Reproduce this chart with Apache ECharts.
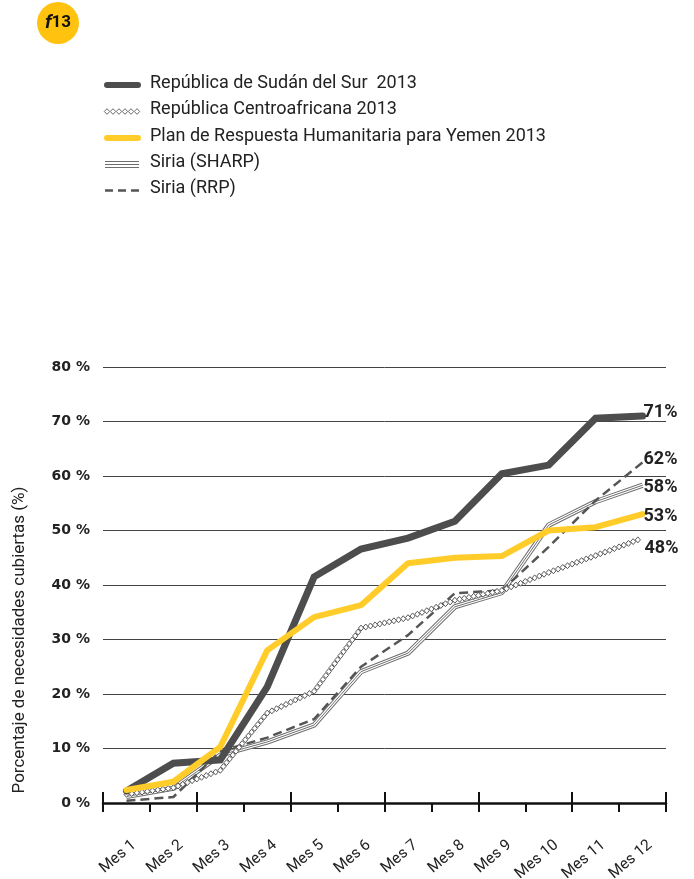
<!DOCTYPE html>
<html>
<head>
<meta charset="utf-8">
<script src="https://cdn.jsdelivr.net/npm/echarts@6/dist/echarts.min.js"></script>
<style>
  html, body { margin: 0; padding: 0; background: #fff; }
  #chart { width: 694px; height: 879px; }
</style>
</head>
<body>
<div id="chart"></div>
<script>
// categorías y valores (%)
const meses = ["Mes 1", "Mes 2", "Mes 3", "Mes 4", "Mes 5", "Mes 6", "Mes 7", "Mes 8", "Mes 9", "Mes 10", "Mes 11", "Mes 12"];
const nombres = [
  "República de Sudán del Sur  2013",
  "República Centroafricana 2013",
  "Plan de Respuesta Humanitaria para Yemen 2013",
  "Siria (SHARP)",
  "Siria (RRP)"
];
const sudanSur = [2.2, 7.3, 7.9, 21.3, 41.5, 46.6, 48.6, 51.7, 60.4, 62.0, 70.6, 71.0];
const centroafricana = [1.6, 2.8, 6.0, 16.5, 20.5, 32.1, 34.0, 37.2, 39.0, 42.3, 45.4, 48.6];
const yemen = [2.4, 3.9, 10.3, 28.0, 34.1, 36.3, 44.0, 45.0, 45.3, 50.0, 50.6, 53.0];
const siriaSharp = [1.2, 2.7, 8.8, 11.2, 14.3, 24.1, 27.5, 36.0, 38.6, 51.0, 55.3, 58.3];
const siriaRrp = [0.4, 1.1, 9.5, 12.0, 15.4, 25.0, 30.8, 38.5, 39.0, 47.0, 55.5, 62.5];
const etiquetasFinales = ["71%", "48%", "53%", "58%", "62%"];
const yTicks = [0, 10, 20, 30, 40, 50, 60, 70, 80];

const chart = echarts.init(document.getElementById("chart"), null, { renderer: "canvas" });

const FONT = "Roboto";
const OSCURO = "#4d4d4d";
const AMARILLO = "#ffcc29";
const GRIS = "#6e6e6e";

// cadena de rombos para República Centroafricana
function rombos(params, api) {
  const i = params.dataIndex;
  const n = centroafricana.length;
  const p0 = api.coord([i, centroafricana[i]]);
  if (i === n - 1) {
    return {
      type: "text",
      x: p0[0] + 2,
      y: p0[1] + 10,
      style: {
        text: etiquetasFinales[1],
        font: "bold 18px " + FONT,
        fill: "#222",
        verticalAlign: "middle"
      }
    };
  }
  const p1 = api.coord([i + 1, centroafricana[i + 1]]);
  const dx = p1[0] - p0[0], dy = p1[1] - p0[1];
  const len = Math.sqrt(dx * dx + dy * dy);
  const paso = 5;
  const cuenta = Math.max(1, Math.round(len / paso));
  const hijos = [];
  for (let k = 0; k < cuenta; k++) {
    const t = k / cuenta;
    const x = p0[0] + dx * t, y = p0[1] + dy * t;
    hijos.push({
      type: "polygon",
      shape: { points: [[x, y - 3], [x + 2.6, y], [x, y + 3], [x - 2.6, y]] },
      style: { fill: "#fff", stroke: "#5a5a5a", lineWidth: 1 }
    });
  }
  return { type: "group", children: hijos };
}

function etiquetaFinal(texto, dy) {
  return {
    show: true,
    formatter: texto,
    color: "#222",
    fontFamily: FONT,
    fontWeight: "bold",
    fontSize: 18,
    distance: 1,
    offset: [0, dy]
  };
}

// leyenda dibujada a mano
const leyendaX = 105, leyendaTexto = 150;
const filas = [85, 111.5, 138, 164.5, 190.5];
const leyenda = [];
filas.forEach((y, k) => {
  leyenda.push({
    type: "text", left: leyendaTexto, top: y - 11,
    style: { text: nombres[k], font: "18px " + FONT, fill: "#222" }
  });
});
leyenda.push({ type: "line", shape: { x1: leyendaX + 2, y1: filas[0], x2: 138, y2: filas[0] },
  style: { stroke: OSCURO, lineWidth: 6, lineCap: "round" } });
for (let k = 0; k < 6; k++) {
  const x = leyendaX + 2 + k * 6, y = filas[1];
  leyenda.push({ type: "polygon", shape: { points: [[x, y - 2.8], [x + 2.7, y], [x, y + 2.8], [x - 2.7, y]] },
    style: { fill: "#fff", stroke: "#5a5a5a", lineWidth: 0.9 } });
}
leyenda.push({ type: "line", shape: { x1: leyendaX + 2, y1: filas[2], x2: 138, y2: filas[2] },
  style: { stroke: AMARILLO, lineWidth: 6, lineCap: "round" } });
[-3, 0, 3].forEach(d => {
  leyenda.push({ type: "line", shape: { x1: leyendaX, y1: filas[3] + d, x2: 139, y2: filas[3] + d },
    style: { stroke: GRIS, lineWidth: 1 } });
});
leyenda.push({ type: "line", shape: { x1: leyendaX, y1: filas[4], x2: 139, y2: filas[4] },
  style: { stroke: "#555", lineWidth: 2.5, lineDash: [8, 5] } });

const option = {
  animation: false,
  backgroundColor: "#fff",
  grid: { left: 103, right: 28, top: 367, bottom: 76, containLabel: false, outerBoundsMode: "none" },
  graphic: [
    { type: "circle", shape: { cx: 58, cy: 23, r: 21 }, style: { fill: "#ffc20e" } },
    {
      type: "text", x: 58, y: 23,
      style: {
        text: "{f|f}{n|13}",
        align: "center", verticalAlign: "middle",
        rich: {
          f: { fontFamily: FONT, fontSize: 19, fontStyle: "italic", fontWeight: "bold", fill: "#111" },
          n: { fontFamily: FONT, fontSize: 17, fontWeight: "bold", fill: "#111" }
        }
      }
    },
    {
      type: "text", x: 20, y: 640, rotation: Math.PI / 2,
      style: {
        text: "Porcentaje de necesidades cubiertas (%)",
        font: "17px " + FONT, fill: "#222",
        align: "center", verticalAlign: "middle"
      }
    },
    ...leyenda
  ],
  xAxis: [
    {
      type: "category",
      data: meses,
      boundaryGap: true,
      axisLine: { lineStyle: { color: "#111", width: 2.5 } },
      axisTick: { show: true, length: 9, lineStyle: { color: "#111", width: 2 } },
      axisLabel: {
        rotate: 40, margin: 31, interval: 0,
        formatter: v => "{e| }\n{t|" + v + "}",
        rich: {
          e: { height: 24, fontSize: 2 },
          t: { color: "#222", fontFamily: FONT, fontSize: 15.5, height: 18 }
        }
      },
      z: 10
    },
    {
      type: "category",
      data: meses,
      position: "bottom",
      boundaryGap: true,
      axisLine: { show: false },
      axisTick: { show: true, inside: true, length: 11, lineStyle: { color: "#111", width: 2 } },
      axisLabel: { show: false },
      z: 10
    }
  ],
  yAxis: {
    type: "value",
    min: yTicks[0],
    max: yTicks[yTicks.length - 1],
    interval: 10,
    axisLine: { show: false },
    axisTick: { show: false },
    axisLabel: {
      formatter: "{value} %",
      margin: 13,
      color: "#222",
      fontFamily: "DejaVu Sans",
      fontWeight: "bold",
      fontSize: 14
    },
    splitLine: { lineStyle: { color: "#444", width: 1 } }
  },
  series: [
    {
      name: nombres[3], type: "line", data: siriaSharp, symbol: "none", z: 2,
      lineStyle: { color: GRIS, width: 5.2 }
    },
    {
      name: nombres[3] + " b", type: "line", data: siriaSharp, symbol: "none", z: 2,
      lineStyle: { color: "#fff", width: 3.2 }
    },
    {
      name: nombres[3] + " c", type: "line", data: siriaSharp, symbol: "none", z: 2,
      lineStyle: { color: GRIS, width: 1 },
      endLabel: etiquetaFinal(etiquetasFinales[3], 2)
    },
    {
      name: nombres[4], type: "line", data: siriaRrp, symbol: "none", z: 3,
      lineStyle: { color: "#555", width: 2.5, type: [9, 5] },
      endLabel: etiquetaFinal(etiquetasFinales[4], -3)
    },
    {
      name: nombres[1], type: "custom", coordinateSystem: "cartesian2d", z: 4,
      data: centroafricana.map((v, i) => [i, v]),
      encode: { x: 0, y: 1 },
      renderItem: rombos
    },
    {
      name: nombres[0], type: "line", data: sudanSur, symbol: "none", z: 5,
      lineStyle: { color: OSCURO, width: 7, cap: "round", join: "miter" },
      endLabel: etiquetaFinal(etiquetasFinales[0], -4)
    },
    {
      name: nombres[2], type: "line", data: yemen, symbol: "none", z: 6,
      lineStyle: { color: AMARILLO, width: 6, cap: "round" },
      endLabel: etiquetaFinal(etiquetasFinales[2], 2)
    }
  ]
};

chart.setOption(option);
</script>
</body>
</html>
